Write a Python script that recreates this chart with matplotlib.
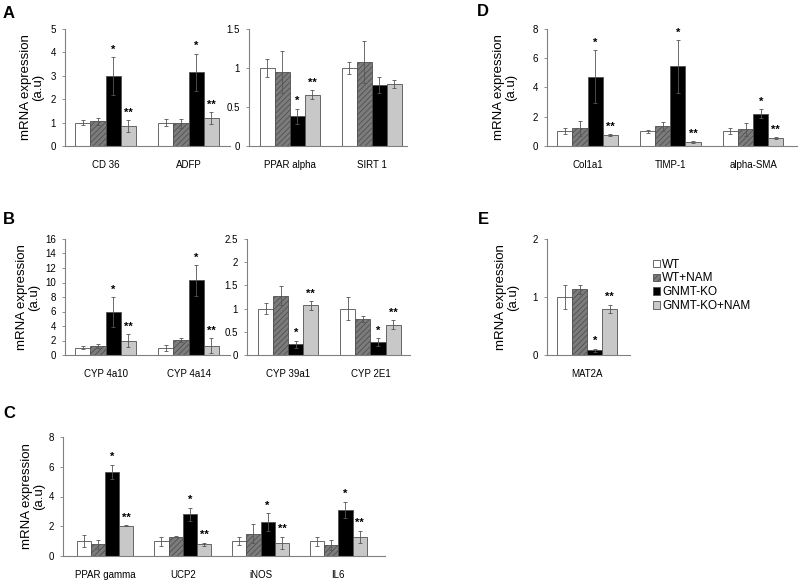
import matplotlib
matplotlib.use("Agg")
import matplotlib.pyplot as plt
from matplotlib.patches import Patch
import numpy as np

plt.rcParams['font.family'] = ['Liberation Sans', 'DejaVu Sans']
plt.rcParams['hatch.linewidth'] = 0.6

groups = ["WT", "WT+NAM", "GNMT-KO", "GNMT-KO+NAM"]

# valores (media, error) por panel
a1_genes = ["CD 36", "ADFP"]
a1_mean = [[1.0, 1.05, 3.0, 0.85], [1.0, 0.97, 3.15, 1.2]]
a1_err = [[0.1, 0.15, 0.8, 0.25], [0.15, 0.2, 0.8, 0.25]]
a1_star = [True, True]

a2_genes = ["PPAR alpha", "SIRT 1"]
a2_mean = [[1.0, 0.95, 0.38, 0.66], [1.0, 1.08, 0.78, 0.79]]
a2_err = [[0.12, 0.27, 0.1, 0.06], [0.08, 0.27, 0.1, 0.05]]
a2_star = [True, False]

b1_genes = ["CYP 4a10", "CYP 4a14"]
b1_mean = [[1.0, 1.2, 5.9, 2.0], [1.0, 2.1, 10.3, 1.3]]
b1_err = [[0.2, 0.25, 2.1, 0.9], [0.4, 0.3, 2.1, 1.0]]
b1_star = [True, True]

b2_genes = ["CYP 39a1", "CYP 2E1"]
b2_mean = [[1.0, 1.28, 0.23, 1.07], [1.0, 0.78, 0.28, 0.65]]
b2_err = [[0.11, 0.2, 0.08, 0.1], [0.25, 0.06, 0.09, 0.1]]
b2_star = [True, True]

c_genes = ["PPAR gamma", "UCP2", "iNOS", "IL6"]
c_mean = [[1.0, 0.8, 5.65, 2.05], [1.0, 1.3, 2.8, 0.8], [1.0, 1.5, 2.3, 0.9], [1.0, 0.75, 3.1, 1.3]]
c_err = [[0.4, 0.3, 0.5, 0.05], [0.3, 0.05, 0.45, 0.1], [0.25, 0.65, 0.6, 0.4], [0.3, 0.35, 0.55, 0.4]]
c_star = [True, True, True, True]

d_genes = ["Col1a1", "TIMP-1", "alpha-SMA"]
d_mean = [[1.0, 1.2, 4.75, 0.75], [1.0, 1.35, 5.45, 0.28], [1.0, 1.15, 2.2, 0.55]]
d_err = [[0.2, 0.5, 1.8, 0.08], [0.1, 0.3, 1.8, 0.05], [0.2, 0.45, 0.3, 0.08]]
d_star = [True, True, True]

e_genes = ["MAT2A"]
e_mean = [[1.0, 1.13, 0.08, 0.8]]
e_err = [[0.2, 0.08, 0.03, 0.07]]
e_star = [True]

W, H = 800, 583
fig = plt.figure(figsize=(W / 100, H / 100), dpi=100)

colors = ["white", "#7c7c7c", "black", "#c8c8c8"]
hatches = [None, "//////", None, None]
bw = 0.183


def px_axes(x0, y0, x1, y1):
    return fig.add_axes([x0 / W, 1 - y1 / H, (x1 - x0) / W, (y1 - y0) / H])


def panel(box, genes, means, errs, stars, ylim, yticks, xlim):
    ax = px_axes(*box)
    x = np.arange(len(genes))
    means = np.array(means)
    errs = np.array(errs)
    for k in range(4):
        pos = x + (k - 1.5) * bw
        ax.bar(pos, means[:, k], bw, color=colors[k], edgecolor="#505050",
               linewidth=0.6, hatch=hatches[k], zorder=2)
        ax.errorbar(pos, means[:, k], yerr=errs[:, k], fmt="none",
                    ecolor="#555555", elinewidth=0.6, capsize=1.2,
                    capthick=0.6, zorder=3)
    # asteriscos
    off = (ylim[1] - ylim[0]) * 0.02
    for i, s in enumerate(stars):
        if not s:
            continue
        for k, txt in [(2, "*"), (3, "**")]:
            ax.text(x[i] + (k - 1.5) * bw, means[i, k] + errs[i, k] + off, txt,
                    ha="center", va="bottom", fontsize=8, fontweight="bold")
    ax.set_xlim(*xlim)
    ax.set_ylim(*ylim)
    ax.set_yticks(yticks)
    ax.set_yticklabels([("%g" % t) for t in yticks], fontsize=7)
    ax.set_xticks(x)
    ax.set_xticklabels(genes, fontsize=7)
    ax.tick_params(axis="x", length=0, pad=10)
    ax.tick_params(axis="y", length=2.5, width=0.6, color="#808080", pad=4)
    for sp in ["top", "right"]:
        ax.spines[sp].set_visible(False)
    for sp in ["left", "bottom"]:
        ax.spines[sp].set_color("#808080")
        ax.spines[sp].set_linewidth(0.8)
    ax.patch.set_alpha(0)
    return ax


panel((65, 29, 230, 146), a1_genes, a1_mean, a1_err, a1_star, (0, 5), [0, 1, 2, 3, 4, 5], (-0.49, 1.5))
panel((249, 29, 407, 146), a2_genes, a2_mean, a2_err, a2_star, (0, 1.5), [0, 0.5, 1, 1.5], (-0.5, 1.43))
panel((65, 239, 230, 355), b1_genes, b1_mean, b1_err, b1_star, (0, 16), list(range(0, 17, 2)), (-0.49, 1.5))
panel((247, 239, 410, 355), b2_genes, b2_mean, b2_err, b2_star, (0, 2.5), [0, 0.5, 1, 1.5, 2, 2.5], (-0.5, 1.48))
panel((63, 437, 385, 556), c_genes, c_mean, c_err, c_star, (0, 8), [0, 2, 4, 6, 8], (-0.54, 3.6))
panel((547, 29, 797, 146), d_genes, d_mean, d_err, d_star, (0, 8), [0, 2, 4, 6, 8], (-0.49, 2.53))
panel((547, 239, 630, 355), e_genes, e_mean, e_err, e_star, (0, 2), [0, 1, 2], (-0.49, 0.52))

# etiquetas del eje y
ylab = "mRNA expression\n(a.u)"
for xc, y0, y1 in [(32, 29, 146), (28, 239, 355), (33, 437, 556), (505, 29, 146), (507, 239, 355)]:
    fig.text(xc / W, 1 - (y0 + y1) / 2 / H, ylab, rotation=90, ha="center", va="center",
             fontsize=9.5, linespacing=1.1)

# letras de panel
for lab, xp, yp in [("A", 3, 14), ("B", 3, 219), ("C", 3, 414), ("D", 477, 12), ("E", 478, 220)]:
    fig.text(xp / W, 1 - yp / H, lab, fontsize=12, fontweight="bold", ha="left", va="center")

handles = [Patch(facecolor=colors[k], edgecolor="#505050", linewidth=0.6, hatch=hatches[k], label=groups[k])
           for k in range(4)]
fig.legend(handles=handles, loc="upper left", bbox_to_anchor=(648 / W, 1 - 254 / H), frameon=False,
           fontsize=8.5, handlelength=0.6, handleheight=0.6, handletextpad=0.2, labelspacing=0.15,
           borderaxespad=0)

fig.savefig("out.png", dpi=100)
